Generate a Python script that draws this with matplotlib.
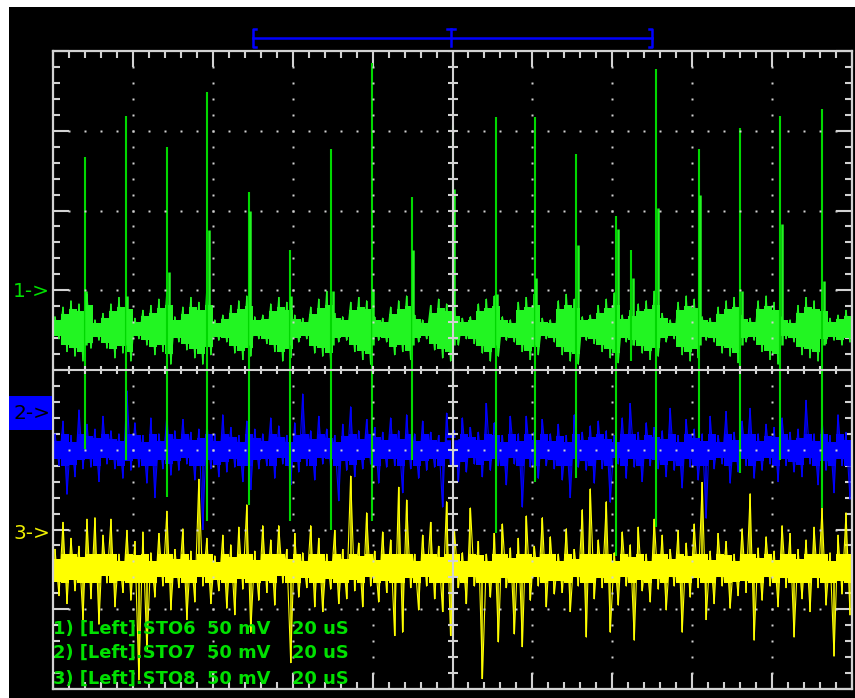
import numpy as np
import matplotlib
matplotlib.use("Agg")
import matplotlib.pyplot as plt
from matplotlib.patches import Rectangle
from matplotlib import transforms

# ---------------- data ----------------
# time base: 20 uS/div, 10 divisions ; vertical: 50 mV/div, 8 divisions
time_per_div_us = 20
mv_per_div = 50
channel_names = ["1) [Left].STO6", "2) [Left].STO7", "3) [Left].STO8"]
channel_volts = ["50 mV", "50 mV", "50 mV"]
channel_times = ["20 uS", "20 uS", "20 uS"]
marker_labels = ["1->", "2->", "3->"]
marker_level_div = [4.98, 3.46, 1.95]      # ground markers on the left
trace_level_div = [4.51, 3.00, 1.51]       # trace centre lines
view_window_us = [50, 150]                 # memory bracket on top
trigger_us = 100

# trace samples, mV about the centre line: peaks (even samples) and troughs (odd samples)
green_hi = [8, 14, 18, 16, 22, 6, 10, 16, 20, 18, 7, 12, 15, 19, 24, 8, 14, 20, 17, 26,
            6, 9, 15, 18, 21, 8, 9, 16, 20, 17, 9, 7, 14, 19, 24, 10, 8, 17, 20, 18,
            8, 7, 14, 18, 21, 9, 6, 15, 19, 16, 12, 7, 8, 16, 19, 21, 8, 6, 17, 20,
            22, 7, 6, 18, 22, 19, 8, 9, 15, 19, 23, 9, 12, 16, 18, 24, 10, 6, 17, 21,
            19, 8, 7, 14, 18, 20, 9, 7, 18, 21, 17, 8, 6, 15, 20, 18, 16, 7, 9, 12]
green_lo = [-6, -14, -17, -20, -12, -7, -12, -18, -15, -20, -6, -10, -16, -14, -22, -8, -13, -18, -22, -16,
            -7, -8, -15, -19, -17, -6, -9, -14, -20, -18, -8, -6, -15, -17, -21, -8, -7, -14, -19, -22,
            -7, -8, -16, -14, -19, -8, -6, -13, -18, -20, -10, -6, -9, -15, -20, -17, -7, -8, -14, -19,
            -16, -6, -8, -16, -20, -22, -7, -9, -14, -18, -21, -8, -10, -15, -19, -17, -8, -6, -16, -20,
            -18, -7, -8, -15, -17, -21, -8, -7, -14, -19, -22, -6, -8, -16, -18, -20, -9, -7, -10, -8]
blue_hi = [10, 18, 9, 25, 16, 13, 21, 12, 10, 37, 17, 9, 20, 10, 22, 12, 19, 11, 13, 18,
           10, 22, 14, 9, 18, 13, 10, 20, 15, 9, 17, 35, 12, 21, 13, 9, 16, 27, 12, 19,
           14, 11, 20, 12, 22, 10, 18, 11, 9, 23, 12, 20, 14, 11, 29, 17, 9, 21, 10, 21,
           11, 19, 10, 16, 9, 22, 11, 15, 18, 12, 9, 20, 29, 11, 17, 14, 12, 26, 9, 19,
           13, 10, 21, 9, 24, 11, 18, 26, 10, 16, 14, 20, 11, 13, 31, 10, 19, 9, 22, 11]
blue_lo = [-10, -28, -17, -12, -11, -20, -9, -12, -18, -13, -11, -21, -30, -12, -16, -13, -9, -19, -50, -12,
           -17, -14, -11, -20, -25, -12, -10, -18, -9, -22, -14, -10, -19, -9, -11, -32, -13, -17, -12, -9,
           -21, -11, -10, -27, -12, -18, -13, -11, -36, -10, -20, -14, -9, -17, -13, -10, -22, -9, -36, -11,
           -18, -10, -12, -19, -30, -11, -13, -21, -12, -33, -9, -18, -11, -20, -10, -12, -17, -13, -24, -11,
           -19, -43, -12, -9, -21, -14, -10, -18, -13, -9, -20, -10, -14, -17, -9, -22, -13, -27, -10, -31]
yellow_hi = [12, 29, 19, 14, 31, 32, 21, 31, 9, 24, 17, 23, 10, 22, 36, 12, 25, 11, 56, 19,
             8, 21, 15, 26, 40, 11, 27, 18, 27, 12, 22, 10, 27, 19, 9, 24, 12, 58, 16, 35,
             11, 23, 18, 51, 43, 9, 21, 29, 14, 42, 24, 10, 38, 17, 9, 22, 28, 13, 19, 33,
             14, 32, 20, 9, 25, 12, 37, 50, 18, 42, 10, 23, 15, 26, 9, 31, 21, 12, 24, 16,
             28, 54, 11, 22, 17, 9, 25, 47, 13, 20, 11, 27, 22, 12, 18, 26, 38, 10, 21, 35]
yellow_lo = [-17, -22, -14, -32, -19, -35, -9, -24, -15, -20, -70, -52, -18, -11, -26, -12, -32, -21, -11, -22,
             -14, -25, -29, -13, -40, -20, -15, -23, -9, -59, -18, -12, -24, -27, -13, -22, -19, -14, -24, -11,
             -21, -15, -42, -40, -12, -26, -11, -19, -27, -42, -12, -22, -11, -69, -18, -46, -12, -41, -49, -20,
             -11, -24, -16, -15, -27, -11, -43, -19, -12, -40, -23, -11, -45, -14, -21, -13, -26, -11, -40, -18,
             -12, -32, -22, -11, -25, -17, -15, -45, -20, -11, -24, -12, -43, -19, -27, -12, -23, -55, -16, -29]

# tall periodic spikes on channel 1 (time in uS, extents in mV about the centre line)
green_spike_t = [8.0, 18.2, 28.6, 38.6, 49.0, 59.2, 69.6, 79.8, 89.8, 100.0,
                 110.8, 120.6, 131.0, 141.0, 144.8, 151.0, 161.6, 172.0, 182.0, 192.6]
green_spike_top = [108, 134, 114, 149, 86, 50, 113, 167, 83, 128,
                   133, 133, 110, 71, 50, 163, 113, 126, 134, 138]
green_spike_bottom = [-75, -82, -105, -120, -110, -120, -126, -120, -82, -86,
                      -128, -96, -93, -142, -20, -124, -68, -90, -82, -112]
green_spike_shoulder = [24, 21, 36, 62, 74, 21, 24, 24, 50, 88,
                        22, 32, 53, 63, 32, 76, 84, 24, 66, 30]

# ---------------- styling ----------------
W, H = 855, 698
BG = "black"
GRID = "#d2d2d2"
GREEN = "#22f522"
GREEN_SPK = "#00d800"
BLUE = "#0000ff"
YELLOW = "#ffff00"
TXT_GREEN = "#00e000"

fig = plt.figure(figsize=(W / 100, H / 100), dpi=100, facecolor="white")
fig.add_artist(Rectangle((9 / W, 0), 1 - 9 / W, 1 - 7 / H, transform=fig.transFigure,
                         facecolor=BG, edgecolor="none", zorder=-10))

ax = fig.add_axes([53 / W, 9 / H, 799 / W, 638 / H])
ax.set_zorder(1)
ax.set_facecolor(BG)
n_xdiv, n_ydiv = 10, 8
xmax = n_xdiv * time_per_div_us
ax.set_xlim(0, xmax)
ax.set_ylim(0, n_ydiv)

px_x = xmax / 799.0      # uS per pixel
px_y = n_ydiv / 638.0    # div per pixel


def draw_trace(hi, lo, level, col, z, cap, frac):
    hi = np.asarray(hi, float)
    lo = np.asarray(lo, float)
    n = len(hi)
    step = xmax / n
    tk = np.arange(n) * step
    # solid core of the noise band (tall excursions stay thin)
    ch = np.minimum(hi, cap) * frac
    cl = np.maximum(lo, -cap) * frac
    te = np.append(tk, xmax)
    ax.fill_between(te, level + np.append(cl, cl[-1]) / mv_per_div,
                    level + np.append(ch, ch[-1]) / mv_per_div,
                    step="post", color=col, lw=0, zorder=z)
    # individual samples (peak then trough)
    t = np.empty(2 * n)
    t[0::2] = tk + step * 0.25
    t[1::2] = tk + step * 0.75
    v = np.empty(2 * n)
    v[0::2] = hi
    v[1::2] = lo
    ax.vlines(t, level, level + v / mv_per_div, color=col, lw=1.1, zorder=z)
    ax.plot(t, level + v / mv_per_div, color=col, lw=0.8, zorder=z)


draw_trace(yellow_hi, yellow_lo, trace_level_div[2], YELLOW, 2, 18, 0.5)
draw_trace(blue_hi, blue_lo, trace_level_div[1], BLUE, 3, 18, 0.55)
draw_trace(green_hi, green_lo, trace_level_div[0], GREEN, 4, 22, 0.7)

g0 = trace_level_div[0]
ax.vlines(green_spike_t, g0 + np.array(green_spike_bottom) / mv_per_div,
          g0 + np.array(green_spike_top) / mv_per_div, color=GREEN_SPK, lw=1.5, zorder=4.5)
ax.vlines(np.array(green_spike_t) + 1.5 * px_x, g0 - 0.2,
          g0 + np.array(green_spike_shoulder) / mv_per_div, color=GREEN, lw=1.8, zorder=4.5)

# ---------------- graticule ----------------
for s in ax.spines.values():
    s.set_color(GRID)
    s.set_linewidth(1.6)
    s.set_zorder(6)
ax.set_xticks(np.arange(0, xmax + 1, time_per_div_us))
ax.set_xticks(np.arange(0, xmax + 1, time_per_div_us / 5), minor=True)
ax.set_yticks(np.arange(0, n_ydiv + 1, 1))
ax.set_yticks(np.arange(0, n_ydiv + 0.01, 0.2), minor=True)
ax.tick_params(which="both", direction="in", top=True, right=True, color=GRID,
               labelbottom=False, labelleft=False, width=1.5, zorder=6)
ax.tick_params(which="major", length=11.5)
ax.tick_params(which="minor", length=5)

cx, cy = xmax / 2, n_ydiv / 2
ax.axhline(cy, color=GRID, lw=1.5, zorder=6)
ax.axvline(cx, color=GRID, lw=1.5, zorder=6)
minor_x = np.arange(0, xmax + 0.1, time_per_div_us / 5)
minor_y = np.arange(0, n_ydiv + 0.01, 0.2)
ax.vlines(minor_x, cy - 4 * px_y, cy + 4 * px_y, color=GRID, lw=1.5, zorder=6)
ax.hlines(minor_y, cx - 5 * px_x, cx + 5 * px_x, color=GRID, lw=1.5, zorder=6)

dots_x, dots_y = [], []
for gx in np.arange(time_per_div_us, xmax, time_per_div_us):
    if abs(gx - cx) < 1e-6:
        continue
    for gy in minor_y[1:-1]:
        dots_x.append(gx); dots_y.append(gy)
for gy in range(1, n_ydiv):
    if gy == cy:
        continue
    for gx in minor_x[1:-1]:
        dots_x.append(gx); dots_y.append(gy)
ax.plot(dots_x, dots_y, ls="none", marker="s", ms=1.5, mec="none", mfc=GRID, zorder=6)

# ---------------- channel markers (left) ----------------
bt = transforms.blended_transform_factory(fig.transFigure, ax.transData)
mcol = [TXT_GREEN, "black", "#f0f000"]
for i, (lab, lvl) in enumerate(zip(marker_labels, marker_level_div)):
    if i == 1:
        fig.add_artist(Rectangle((9 / W, lvl - 17 * px_y), 43 / W, 34 * px_y, transform=bt,
                                 facecolor=BLUE, edgecolor="none", zorder=2))
    fig.text(13 / W, lvl, lab, transform=bt, color=mcol[i], fontsize=14.5,
             family="DejaVu Sans", ha="left", va="center", zorder=3)

# ---------------- memory bracket and trigger on top ----------------
yb = (689 - 36) / 80.0
yt, ybt = yb + 9 * px_y, yb - 9 * px_y
x0, x1 = view_window_us
kw = dict(color=BLUE, lw=1.8, clip_on=False, zorder=7)
ax.plot([x0, x1], [yb, yb], **kw)
ax.plot([x0 + 3 * px_x, x0, x0, x0 + 3 * px_x], [yt, yt, ybt, ybt], **kw)
ax.plot([x1 - 3 * px_x, x1, x1, x1 - 3 * px_x], [yt, yt, ybt, ybt], **kw)
ax.plot([trigger_us - 0.5, trigger_us - 0.5], [yt, ybt + 1 * px_y], **kw)
ax.plot([trigger_us - 0.5 - 4 * px_x, trigger_us - 0.5 + 4 * px_x], [yt, yt], **kw)

# trigger marker on channel 2
ax.text(trigger_us, trace_level_div[1] + 0.05, "T", color="black", fontsize=12,
        fontweight="bold", ha="center", va="center", zorder=5)

# ---------------- channel legend (bottom-left) ----------------
leg_y = [(689 - 629) / 80.0, (689 - 653) / 80.0, (689 - 679) / 80.0]
for i in range(3):
    kwt = dict(color=TXT_GREEN, fontsize=12.9, fontweight="bold", family="DejaVu Sans",
               va="center", ha="left", zorder=8)
    ax.text(0, leg_y[i], channel_names[i], **kwt)
    ax.text(154 * px_x, leg_y[i], channel_volts[i], **kwt)
    ax.text(239 * px_x, leg_y[i], channel_times[i], **kwt)

fig.savefig("out.png", dpi=100, facecolor="white")
